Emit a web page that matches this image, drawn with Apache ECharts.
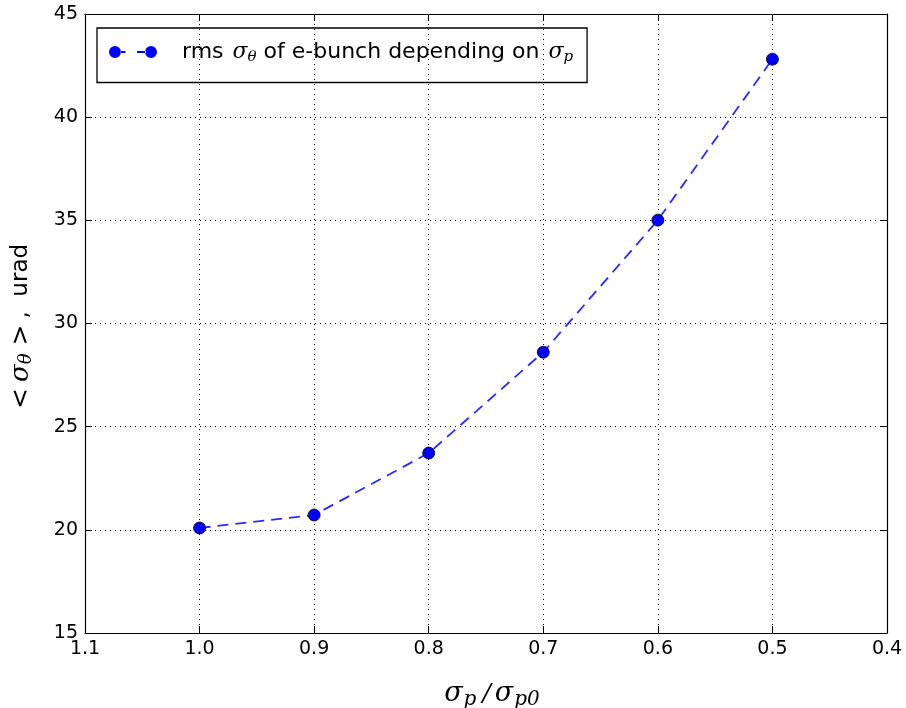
<!DOCTYPE html>
<html><head><meta charset="utf-8">
<script src="https://cdn.jsdelivr.net/npm/echarts@6/dist/echarts.min.js"></script>
<style>html,body{margin:0;padding:0;background:#fff}#c{width:906px;height:708px}</style>
</head><body><div id="c"></div>
<script>
const sigmaRatio = [1.0, 0.9, 0.8, 0.7, 0.6, 0.5];
const rmsTheta = [20.09, 20.72, 23.72, 28.61, 35.01, 42.81];
const xTicks = [1.1, 1.0, 0.9, 0.8, 0.7, 0.6, 0.5, 0.4];
const yTicks = [15, 20, 25, 30, 35, 40, 45];

const chart = echarts.init(document.getElementById('c'), null, {renderer: 'canvas'});
const serif = 'DejaVu Serif';
const sans = 'DejaVu Sans';
const data = sigmaRatio.map((x, i) => [x, rmsTheta[i]]);
const legendIcon = 'path://M0,6a6,6 0 1,0 12,0a6,6 0 1,0 -12,0z M11.5,5.1h5v1.8h-5z M28,5.1h9v1.8h-9z M36,6a6,6 0 1,0 12,0a6,6 0 1,0 -12,0z';

const xBase = {type: 'value', min: 0.4, max: 1.1, interval: 0.1, inverse: true};
const yBase = {type: 'value', min: yTicks[0], max: yTicks[yTicks.length-1], interval: 5};
const axLine = {show: true, lineStyle: {color: '#000', width: 1.2}};
const tick = {show: true, inside: true, length: 7, lineStyle: {color: '#000', width: 1}};

chart.setOption({
  animation: false,
  grid: {left: 85, right: 19, top: 14, bottom: 75, containLabel: false, outerBoundsMode: 'none'},
  legend: {
    left: 97, top: 28,
    borderColor: '#000', borderWidth: 1.3, borderRadius: 0,
    padding: [13, 14, 18, 12],
    itemWidth: 48, itemHeight: 12, itemGap: 0,
    icon: legendIcon,
    itemStyle: {borderWidth: 0, color: '#0000ff'},
    formatter: () => '{t|rms }{s|σ}{sub|θ}{t| of e-bunch depending on }{s|σ}{sub|p}',
    textStyle: {
      padding: [0, 0, 0, 20],
      rich: {
        t: {fontFamily: sans, fontSize: 22, color: '#000'},
        s: {fontFamily: serif, fontStyle: 'italic', fontSize: 22, color: '#000', padding: [0, 0, 0, 2]},
        sub: {fontFamily: serif, fontStyle: 'italic', fontSize: 15, color: '#000', verticalAlign: 'bottom', padding: [10, 0, 0, 0]}
      }
    }
  },
  xAxis: [
    Object.assign({}, xBase, {
      position: 'bottom',
      axisLine: axLine, axisTick: tick,
      axisLabel: {formatter: v => v.toFixed(1), fontFamily: sans, fontSize: 19, color: '#000', margin: 7},
      splitLine: {show: true, lineStyle: {type: [1, 4], color: '#000', width: 1}},
      name: '{s|σ}{sub|p}{sl|/}{s|σ}{sub|p0}',
      nameLocation: 'middle', nameGap: 45,
      nameTextStyle: {
        padding: [0, 0, 0, 12],
        rich: {
          s: {fontFamily: serif, fontStyle: 'italic', fontSize: 27, color: '#000'},
          sl: {fontFamily: serif, fontStyle: 'italic', fontSize: 25, color: '#000', padding: [0, 4, 0, 6]},
          sub: {fontFamily: serif, fontStyle: 'italic', fontSize: 20, color: '#000', verticalAlign: 'bottom', padding: [12, 0, 0, 1]}
        }
      }
    }),
    Object.assign({}, xBase, {
      position: 'top', axisLine: axLine, axisTick: tick,
      axisLabel: {show: false}, splitLine: {show: false}
    })
  ],
  yAxis: [
    Object.assign({}, yBase, {
      position: 'left',
      axisLine: axLine, axisTick: tick,
      axisLabel: {fontFamily: sans, fontSize: 19, color: '#000', margin: 7},
      splitLine: {show: true, lineStyle: {type: [1, 4], color: '#000', width: 1}},
      name: '{m|<}{s|σ}{sub|θ}{m|>}{t|,  urad}',
      nameLocation: 'middle', nameGap: 50, nameRotate: 90,
      nameTextStyle: {
        padding: [0, 12, 0, 0],
        rich: {
          t: {fontFamily: sans, fontSize: 23, color: '#000'},
          m: {fontFamily: sans, fontSize: 25, color: '#000', padding: [0, 6, 0, 6]},
          s: {fontFamily: serif, fontStyle: 'italic', fontSize: 26, color: '#000'},
          sub: {fontFamily: serif, fontStyle: 'italic', fontSize: 18, color: '#000', verticalAlign: 'bottom', padding: [10, 2, 0, 0]}
        }
      }
    }),
    Object.assign({}, yBase, {
      position: 'right', axisLine: axLine, axisTick: tick,
      axisLabel: {show: false}, splitLine: {show: false}
    })
  ],
  series: [{
    name: 'rms',
    type: 'line',
    data: data,
    symbol: 'circle', symbolSize: 12,
    itemStyle: {color: '#0000ff', borderColor: '#000', borderWidth: 0.8},
    lineStyle: {color: '#2a2aff', width: 1.8, type: [11, 7]},
    z: 3
  }]
});
</script></body></html>
